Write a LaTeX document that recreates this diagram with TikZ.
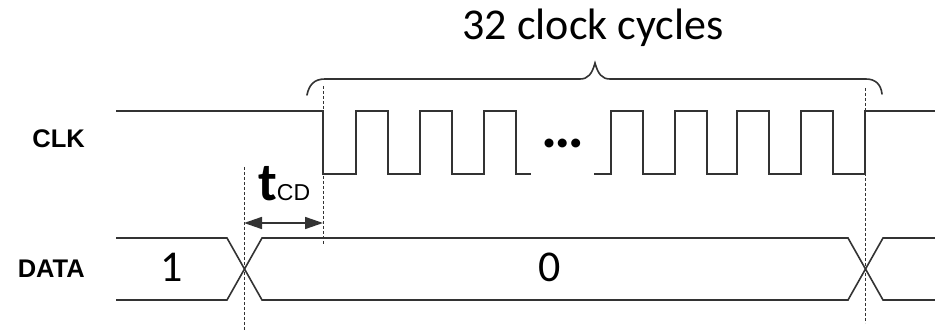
\documentclass[tikz,border=0pt]{standalone}
\usepackage{fontspec}
\setmainfont{Carlito}
\newfontfamily\arialfont{Liberation Sans}
\usetikzlibrary{arrows.meta}
\definecolor{ink}{HTML}{333333}
\begin{document}
\begin{tikzpicture}[x=1pt,y=-1pt,
  sig/.style={line width=1.6pt, draw=ink, line join=miter},
  guide/.style={line width=1pt, dash pattern=on 3pt off 2pt, draw=ink},
  lbl/.style={inner sep=0pt, font=\arialfont\bfseries\fontsize{25.5}{28}\selectfont},
  val/.style={inner sep=0pt, font=\fontsize{44}{50}\selectfont}]
\useasboundingbox (0,0) rectangle (935,331);
% clock
\draw[sig] (116,111) -- (323,111) -- (323,174) -- (356,174) -- (356,111) -- (388,111) -- (388,174)
  -- (420,174) -- (420,111) -- (452,111) -- (452,174) -- (484,174) -- (484,111) -- (516,111)
  -- (516,174) -- (531,174);
\draw[sig] (594,174) -- (611,174) -- (611,111) -- (643,111) -- (643,174) -- (675,174) -- (675,111)
  -- (707,111) -- (707,174) -- (737,174) -- (737,111) -- (769,111) -- (769,174) -- (801,174)
  -- (801,111) -- (833,111) -- (833,174) -- (865,174) -- (865,111) -- (935,111);
% data
\draw[sig] (116,238) -- (227,238) -- (262,300) -- (848,300) -- (883,238) -- (935,238);
\draw[sig] (116,300) -- (227,300) -- (262,238) -- (848,238) -- (883,300) -- (935,300);
% guides
\coordinate (g1t) at (244,167); \coordinate (g1b) at (244,331);
\coordinate (g2t) at (323,86);  \coordinate (g2b) at (323,245);
\coordinate (g3t) at (865,88);  \coordinate (g3b) at (865,323);
\draw[guide] (g1t) -- (g1b);
\draw[guide] (g2t) -- (g2b);
\draw[guide] (g3t) -- (g3b);
% tCD arrow
\coordinate (a1) at (244,223); \coordinate (a2) at (323,223);
\draw[line width=1.6pt, draw=ink, {Triangle[length=18pt,width=12pt]}-{Triangle[length=18pt,width=12pt]}] (a1) -- (a2);
% brace
\draw[sig, line cap=round] (307,95) .. controls (309,85) and (314,79) .. (325,79) -- (580,79)
  .. controls (588,79) and (592,74) .. (595,63) .. controls (598,74) and (602,79) .. (610,79)
  -- (866,79) .. controls (876,79) and (881,85) .. (882,94);
% texts
\node[inner sep=0pt, anchor=base, font=\fontsize{44}{50}\selectfont] (title) at (593,40) {32 clock cycles};
\node[lbl, anchor=base east] (clk) at (85,148) {CLK};
\node[lbl, anchor=base east] (data) at (85,278) {DATA};
\node[val, anchor=base] (one) at (172,282) {1};
\node[val, anchor=base] (zero) at (550,282) {0};
\node[inner sep=0pt, anchor=base, font=\bfseries\fontsize{60}{60}\selectfont] (dots) at (563,148) {…};
\node[inner sep=0pt, anchor=base west] (tcd) at (258,201)
  {{\bfseries\fontsize{54}{60}\selectfont t}{\arialfont\fontsize{23}{26}\selectfont CD}};
\end{tikzpicture}
\end{document}
